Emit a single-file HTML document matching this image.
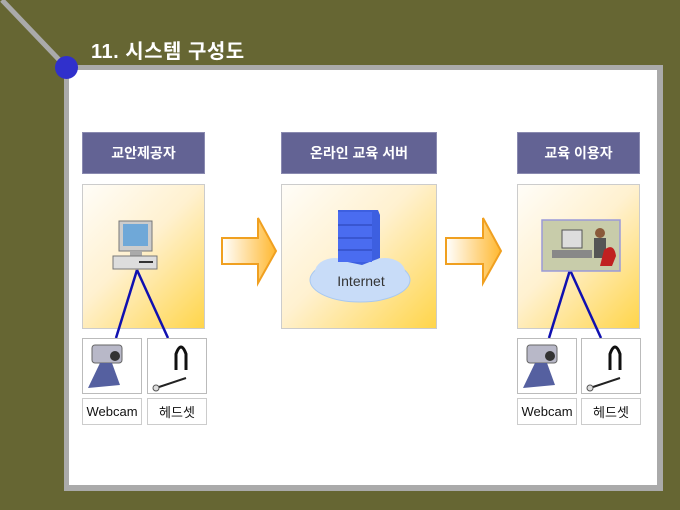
<!DOCTYPE html>
<html><head><meta charset="utf-8"><style>
body{margin:0;width:680px;height:510px;background:#666633;position:relative;overflow:hidden;font-family:"Liberation Sans","Noto Sans CJK KR",sans-serif}
.a{position:absolute;box-sizing:border-box}
.hdr{background:#636394;color:#fff;font-weight:bold;font-size:14px;display:flex;align-items:center;justify-content:center;border:1px solid #8a8ab0}
.cnt{background:linear-gradient(135deg,#fffdf8 0%,#fff1d0 45%,#ffd54a 100%);border:1px solid #ccc}
.sm{background:#fff;border:1px solid #bbb}
.lbl{background:#fff;border:1px solid #ccc;font-size:13px;display:flex;align-items:center;justify-content:center;color:#111}
</style></head><body>
<svg class="a" style="left:0;top:0" width="680" height="510">
<line x1="2" y1="0" x2="66" y2="67" stroke="#aaaaaa" stroke-width="5"/>
</svg>
<div class="a" style="left:64px;top:65px;width:599px;height:426px;background:#aaaaaa"></div>
<div class="a" style="left:69px;top:70px;width:588px;height:415px;background:#fff"></div>
<div class="a" style="left:55px;top:56px;width:23px;height:23px;border-radius:50%;background:#3030cc"></div>
<div class="a" style="left:91px;top:35px;color:#fff;font-weight:bold;font-size:20px;letter-spacing:0.5px">11. 시스템 구성도</div>

<div class="a hdr" style="left:82px;top:132px;width:123px;height:42px">교안제공자</div>
<div class="a hdr" style="left:281px;top:132px;width:156px;height:42px">온라인 교육 서버</div>
<div class="a hdr" style="left:517px;top:132px;width:123px;height:42px">교육 이용자</div>

<div class="a cnt" style="left:82px;top:184px;width:123px;height:145px"></div>
<div class="a cnt" style="left:281px;top:184px;width:156px;height:145px"></div>
<div class="a cnt" style="left:517px;top:184px;width:123px;height:145px"></div>

<svg class="a" style="left:0;top:0" width="680" height="510">
<defs><linearGradient id="ag" x1="0" x2="1"><stop offset="0" stop-color="#fff"/><stop offset="1" stop-color="#ffb830"/></linearGradient></defs>
<polygon points="222,238 258,238 258,218 276,251 258,283 258,264 222,264" fill="url(#ag)" stroke="#f0a020" stroke-width="2"/>
<polygon points="446,238 483,238 483,218 501,251 483,283 483,264 446,264" fill="url(#ag)" stroke="#f0a020" stroke-width="2"/>
<rect x="119" y="221" width="33" height="30" fill="#ccc" stroke="#777"/>
<rect x="123" y="224" width="25" height="22" fill="#6fa8d8"/>
<rect x="130" y="251" width="12" height="5" fill="#aaa"/>
<rect x="113" y="256" width="44" height="13" fill="#ddd" stroke="#777"/>
<line x1="139" y1="262" x2="153" y2="262" stroke="#333" stroke-width="2"/>
<line x1="137" y1="270" x2="116" y2="338" stroke="#1010b0" stroke-width="2.5"/>
<line x1="137" y1="270" x2="168" y2="338" stroke="#1010b0" stroke-width="2.5"/>
<line x1="570" y1="270" x2="549" y2="338" stroke="#1010b0" stroke-width="2.5"/>
<line x1="570" y1="270" x2="601" y2="338" stroke="#1010b0" stroke-width="2.5"/>
<ellipse cx="360" cy="280" rx="50" ry="22" fill="#c8dcf8" stroke="#a8c8f0"/>
<ellipse cx="335" cy="272" rx="20" ry="14" fill="#c8dcf8"/>
<ellipse cx="385" cy="272" rx="20" ry="14" fill="#c8dcf8"/>
<polygon points="338,210 378,210 380,215 380,258 362,265 338,260" fill="#3d5fe0"/>
<rect x="338" y="212" width="34" height="50" fill="#4a6cf0"/>
<line x1="338" y1="225" x2="372" y2="225" stroke="#2840b0"/>
<line x1="338" y1="238" x2="372" y2="238" stroke="#2840b0"/>
<line x1="338" y1="250" x2="372" y2="250" stroke="#2840b0"/>
<text x="361" y="286" font-size="14" text-anchor="middle" fill="#333" font-family="Liberation Sans">Internet</text>
<rect x="542" y="220" width="78" height="51" fill="#c8ccaa" stroke="#9a9ad8" stroke-width="1.5"/>
<rect x="562" y="230" width="20" height="18" fill="#ddd" stroke="#555"/>
<rect x="552" y="250" width="40" height="8" fill="#888"/>
<circle cx="600" cy="233" r="5" fill="#8a5a3a"/>
<rect x="594" y="238" width="12" height="20" fill="#555"/>
<path d="M604 250 q10 -8 12 6 l-4 10 h-12z" fill="#c02020"/>
</svg>

<div class="a sm" style="left:82px;top:338px;width:60px;height:56px"></div>
<div class="a sm" style="left:147px;top:338px;width:60px;height:56px"></div>
<div class="a sm" style="left:517px;top:338px;width:60px;height:56px"></div>
<div class="a sm" style="left:581px;top:338px;width:60px;height:56px"></div>
<svg class="a" style="left:0;top:0" width="680" height="510">
<g><rect x="92" y="345" width="30" height="18" rx="3" fill="#b8b8c8" stroke="#666"/><circle cx="115" cy="356" r="5" fill="#333"/><polygon points="100,363 112,363 120,385 88,388" fill="#5560a0"/></g>
<g transform="translate(435,0)"><rect x="92" y="345" width="30" height="18" rx="3" fill="#b8b8c8" stroke="#666"/><circle cx="115" cy="356" r="5" fill="#333"/><polygon points="100,363 112,363 120,385 88,388" fill="#5560a0"/></g>
<g fill="none" stroke="#111" stroke-width="3"><path d="M176 370 v-16 q5 -14 10 0 v16"/><path d="M610 370 v-16 q5 -14 10 0 v16"/></g>
<g stroke="#222" stroke-width="2"><line x1="156" y1="388" x2="186" y2="378"/><line x1="590" y1="388" x2="620" y2="378"/></g>
<circle cx="156" cy="388" r="3" fill="#ddd" stroke="#555"/><circle cx="590" cy="388" r="3" fill="#ddd" stroke="#555"/>
</svg>

<div class="a lbl" style="left:82px;top:398px;width:60px;height:27px">Webcam</div>
<div class="a lbl" style="left:147px;top:398px;width:60px;height:27px">헤드셋</div>
<div class="a lbl" style="left:517px;top:398px;width:60px;height:27px">Webcam</div>
<div class="a lbl" style="left:581px;top:398px;width:60px;height:27px">헤드셋</div>
</body></html>
